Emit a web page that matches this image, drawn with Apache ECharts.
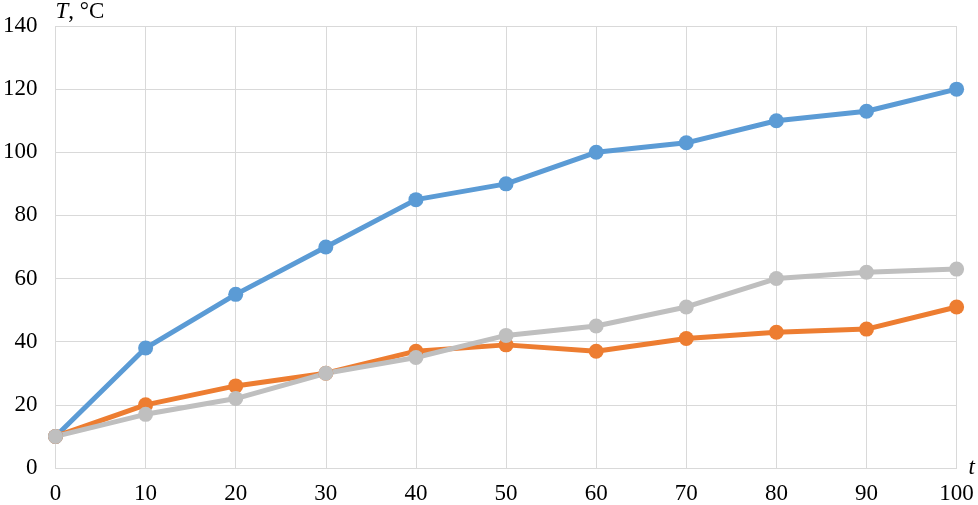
<!DOCTYPE html>
<html>
<head>
<meta charset="utf-8">
<script src="https://cdn.jsdelivr.net/npm/echarts@6/dist/echarts.min.js"></script>
<style>
html,body{margin:0;padding:0;background:#fff;}
#chart{width:978px;height:505px;}
</style>
</head>
<body>
<div id="chart"></div>
<script>
const categories = [0, 10, 20, 30, 40, 50, 60, 70, 80, 90, 100];
const blueValues = [10, 38, 55, 70, 85, 90, 100, 103, 110, 113, 120];
const orangeValues = [10, 20, 26, 30, 37, 39, 37, 41, 43, 44, 51];
const grayValues = [10, 17, 22, 30, 35, 42, 45, 51, 60, 62, 63];

const font = 'Liberation Serif';
function pairs(vals){ return categories.map((c,i)=>[c, vals[i]]); }
function mkSeries(vals, color){
  return {
    type: 'line', data: pairs(vals), symbol: 'circle', symbolSize: 15,
    lineStyle: {color: color, width: 5}, itemStyle: {color: color},
    emphasis: {disabled: true}, animation: false
  };
}
const chart = echarts.init(document.getElementById('chart'));
chart.setOption({
  backgroundColor: '#fff',
  animation: false,
  grid: {left: 53, right: 20, top: 25, bottom: 36, containLabel: false},
  xAxis: {
    type: 'value', min: 0, max: 100, interval: 10,
    name: 't', nameLocation: 'end', nameGap: 12,
    nameTextStyle: {fontFamily: font, fontSize: 23, fontStyle: 'italic', color: '#000', verticalAlign: 'middle', padding: [0,0,4,0]},
    axisLine: {show: true, lineStyle: {color: '#D9D9D9', width: 1}},
    axisTick: {show: false},
    axisLabel: {fontFamily: font, fontSize: 23, color: '#000', margin: 14},
    splitLine: {show: true, lineStyle: {color: '#D9D9D9', width: 1}}
  },
  yAxis: {
    type: 'value', min: 0, max: 140, interval: 20,
    name: '{i|T}{n|, °C}', nameLocation: 'end', nameGap: 3,
    nameTextStyle: {align: 'left', verticalAlign: 'bottom', padding: [0,0,0,0],
      rich: {i: {fontFamily: font, fontSize: 23, fontStyle: 'italic', color: '#000'},
             n: {fontFamily: font, fontSize: 23, color: '#000'}}},
    axisLine: {show: false},
    axisTick: {show: false},
    axisLabel: {fontFamily: font, fontSize: 23, color: '#000', margin: 18},
    splitLine: {show: true, lineStyle: {color: '#D9D9D9', width: 1}}
  },
  series: [
    mkSeries(blueValues, '#5B9BD5'),
    mkSeries(orangeValues, '#ED7D31'),
    mkSeries(grayValues, '#BFBFBF')
  ]
});
</script>
</body>
</html>
